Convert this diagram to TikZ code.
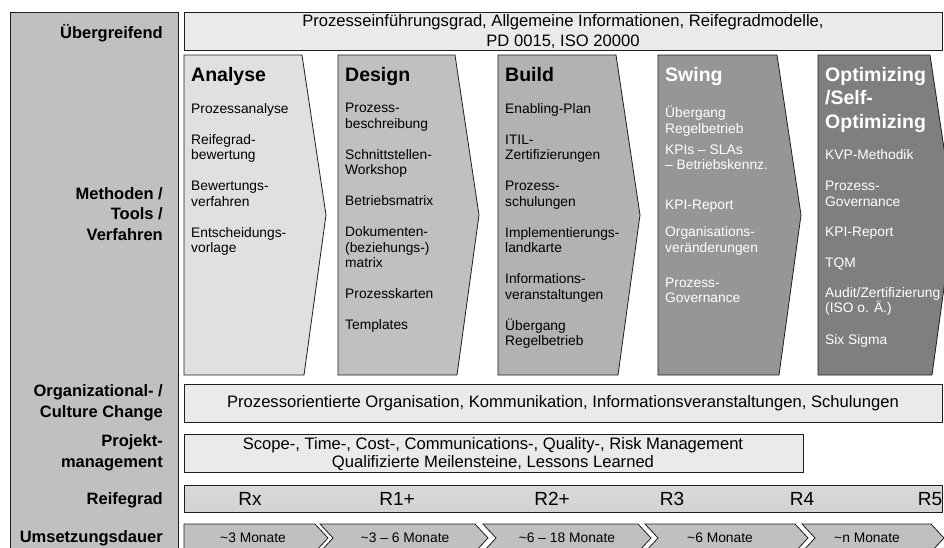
\documentclass[tikz,border=0pt]{standalone}
\usepackage{fontspec}
\setmainfont{Liberation Sans}
\definecolor{grau_spalte}{RGB}{192,192,192}
\definecolor{grau_hell}{RGB}{234,234,234}
\definecolor{phase_a}{RGB}{224,224,224}
\definecolor{phase_d}{RGB}{192,192,192}
\definecolor{phase_b}{RGB}{178,178,178}
\definecolor{phase_s}{RGB}{150,150,150}
\definecolor{phase_o}{RGB}{127,127,127}
\definecolor{rahmen}{RGB}{30,30,30}

\begin{document}
\begin{tikzpicture}[
    x=1pt, y=-1pt,
    zeile/.style={font=\bfseries\fontsize{16.5}{20.5}\selectfont, align=right,
                  anchor=east, inner sep=0pt},
    band/.style={draw=rahmen, fill=grau_hell, line width=0.8pt},
    bandtext/.style={font=\fontsize{16.6}{20}\selectfont, align=center},
    phase/.style={draw=rahmen, line width=0.8pt},
    titel/.style={font=\bfseries\fontsize{19.5}{23.5}\selectfont, align=left,
                  anchor=north west, inner sep=0pt},
    punkte/.style={font=\fontsize{13.8}{15.5}\selectfont, align=left,
                   anchor=north west, inner sep=0pt},
    stufe/.style={font=\fontsize{19}{22}\selectfont},
    dauer/.style={draw=rahmen, fill=grau_spalte, line width=0.8pt},
    dauertext/.style={font=\fontsize{13.8}{16}\selectfont}
]
    \clip (0,0) rectangle (944,547);
    \useasboundingbox (0,0) rectangle (944,547);

    % Left column with row labels
    \draw[fill=grau_spalte, draw=rahmen, line width=0.8pt] (10,12) rectangle (178,560);
    \node[zeile] (lab_ueber)   at (163,33)  {Übergreifend};
    \node[zeile] (lab_methode) at (163,214) {Methoden /\\Tools /\\Verfahren};
    \node[zeile] (lab_orga)    at (163,403) {Organizational- /\\Culture Change};
    \node[zeile] (lab_projekt) at (163,453) {Projekt-\\management};
    \node[zeile] (lab_reife)   at (163,500) {Reifegrad};
    \node[zeile] (lab_dauer)   at (163,538) {Umsetzungsdauer};

    % Übergreifend
    \draw[band] (184,12) rectangle (942,50);
    \node[bandtext] (t_ueber) at (563,32)
        {Prozesseinführungsgrad, Allgemeine Informationen, Reifegradmodelle,\\PD 0015, ISO 20000};

    % Phases
    \foreach \xa/\xb/\farbe in {184/302/phase_a, 338/455/phase_d, 498/616/phase_b,
                                658/777/phase_s, 818/930/phase_o}
        \draw[phase, fill=\farbe] (\xa,55) -- (\xb,55) -- (\xb+24,215)
            -- (\xb+2,375) -- (\xa,375) -- cycle;

    % Analyse
    \node[titel] (ti_analyse) at (191,67) {Analyse};
    \node[punkte] (pk_analyse) at (191,103)
        {Prozessanalyse\\[15.5pt]Reifegrad-\\bewertung\\[15.5pt]Bewertungs-\\verfahren
         \\[15.5pt]Entscheidungs-\\vorlage};

    % Design
    \node[titel] (ti_design) at (345,67) {Design};
    \node[punkte] (pk_design) at (345,103)
        {Prozess-\\beschreibung\\[15.5pt]Schnittstellen-\\Workshop\\[15.5pt]Betriebsmatrix
         \\[15.5pt]Dokumenten-\\(beziehungs-)\\matrix\\[15.5pt]Prozesskarten
         \\[15.5pt]Templates};

    % Build
    \node[titel] (ti_build) at (505,67) {Build};
    \node[punkte] (pk_build) at (505,103)
        {Enabling-Plan\\[15.5pt]ITIL-\\Zertifizierungen\\[15.5pt]Prozess-\\schulungen
         \\[15.5pt]Implementierungs-\\landkarte\\[15.5pt]Informations-\\veranstaltungen
         \\[15.5pt]Übergang\\Regelbetrieb};

    % Swing
    \node[titel, text=white] (ti_swing) at (665,67) {Swing};
    \node[punkte, text=white] (pk_swing) at (665,106)
        {Übergang\\Regelbetrieb\\[5.5pt]KPIs – SLAs\\– Betriebskennz.\\[24pt]KPI-Report
         \\[12pt]Organisations-\\veränderungen\\[19.5pt]Prozess-\\Governance};

    % Optimizing
    \node[titel, text=white] (ti_optim) at (825,67) {Optimizing\\/Self-\\Optimizing};
    \node[punkte, text=white] (pk_optim) at (825,149)
        {KVP-Methodik\\[16pt]Prozess-\\Governance\\[15pt]KPI-Report\\[15.5pt]TQM
         \\[14pt]Audit/Zertifizierung\\(ISO o. Ä.)\\[16pt]Six Sigma};

    % Organizational / Culture Change
    \draw[band] (184,384) rectangle (942,422);
    \node[bandtext] (t_orga) at (563,403)
        {Prozessorientierte Organisation, Kommunikation, Informationsveranstaltungen, Schulungen};

    % Projektmanagement
    \draw[band] (184,434) rectangle (803,472);
    \node[bandtext, font=\fontsize{16.6}{18.5}\selectfont] (t_projekt) at (493,454)
        {Scope-, Time-, Cost-, Communications-, Quality-, Risk Management\\Qualifizierte Meilensteine, Lessons Learned};

    % Reifegrad
    \draw[draw=rahmen, line width=0.8pt, top color=gray!30, middle color=gray!5,
          bottom color=gray!35] (184,485) rectangle (942,512);
    \foreach \xs/\stufe/\name in {250/Rx/rx, 397/R1+/r1, 552/R2+/r2, 672/R3/r3,
                                  802/R4/r4, 930/R5/r5}
        \node[stufe] (st_\name) at (\xs,499) {\stufe};

    % Umsetzungsdauer
    \draw[dauer] (184,524) -- (315,524) -- (328,538) -- (315,552) -- (184,552) -- cycle;
    \foreach \xa/\xb in {320/475, 483/638, 645/795, 802/931}
        \draw[dauer] (\xa,524) -- (\xb,524) -- (\xb+13,538) -- (\xb,552)
            -- (\xa,552) -- (\xa+13,538) -- cycle;
    \node[dauertext] (d1) at (253,538) {\textasciitilde3 Monate};
    \node[dauertext] (d2) at (405,538) {\textasciitilde3 – 6 Monate};
    \node[dauertext] (d3) at (567,538) {\textasciitilde6 – 18 Monate};
    \node[dauertext] (d4) at (720,538) {\textasciitilde6 Monate};
    \node[dauertext] (d5) at (867,538) {\textasciitilde{}n Monate};

\end{tikzpicture}
\end{document}
